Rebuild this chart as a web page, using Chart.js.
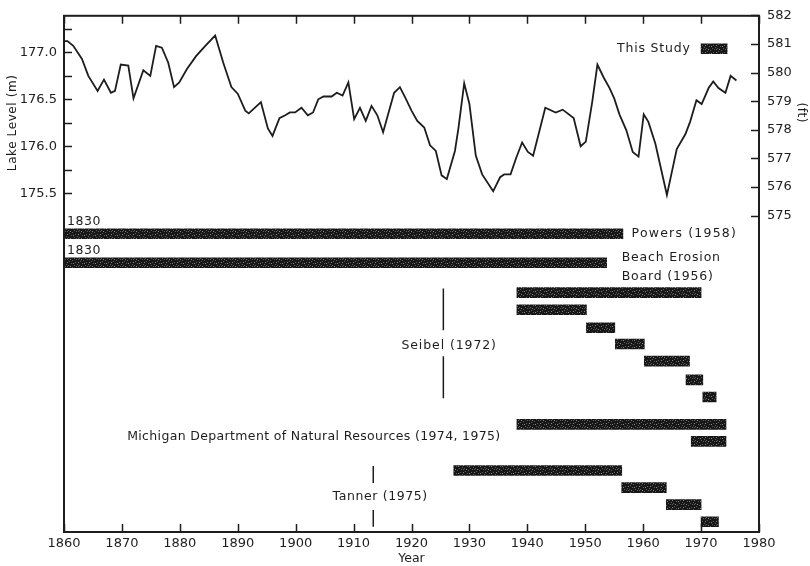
<!DOCTYPE html>
<html>
<head>
<meta charset="utf-8">
<script src="https://cdn.jsdelivr.net/npm/chart.js@4/dist/chart.umd.min.js"></script>
<style>
  html, body { margin: 0; padding: 0; background: #ffffff; }
  #wrap { width: 810px; height: 566px; }
</style>
</head>
<body>
<div id="wrap"><canvas id="c" width="810" height="566"></canvas></div>
<script>
// Lake Michigan–Huron mean lake level (m), yearly record
const levelYears = [
  1860.0, 1860.6, 1861.6, 1863.1, 1864.2, 1865.8, 1866.9, 1868.1, 1868.8, 1869.8,
  1871.1, 1872.0, 1873.7, 1874.9, 1875.9, 1876.9, 1878.0, 1879.0, 1879.9, 1881.2,
  1882.8, 1884.4, 1886.1, 1887.5, 1888.9, 1890.0, 1891.3, 1891.9, 1894.0, 1895.2,
  1896.0, 1897.2, 1898.2, 1899.0, 1899.9, 1901.0, 1902.1, 1903.0, 1903.9, 1904.8,
  1906.2, 1907.1, 1908.1, 1909.1, 1910.1, 1911.1, 1912.1, 1913.1, 1914.1, 1915.1,
  1917.0, 1918.0, 1918.9, 1920.0, 1921.0, 1922.2, 1923.2, 1924.2, 1925.2, 1926.1,
  1927.5, 1928.1, 1929.1, 1930.0, 1931.1, 1932.2, 1934.1, 1935.3, 1936.0, 1937.1,
  1938.1, 1939.1, 1940.1, 1941.0, 1943.1, 1944.9, 1946.1, 1948.0, 1949.2, 1950.1,
  1951.2, 1952.1, 1953.2, 1954.2, 1955.0, 1955.9, 1957.1, 1958.2, 1959.2, 1960.1,
  1960.9, 1962.1, 1964.1, 1965.8, 1967.3, 1968.1, 1969.2, 1970.1, 1971.3, 1972.1,
  1973.0, 1974.2, 1975.1, 1976.1
];
const levelMeters = [
  177.12, 177.12, 177.07, 176.93, 176.75, 176.59, 176.71, 176.57, 176.59, 176.87,
  176.86, 176.51, 176.81, 176.75, 177.07, 177.05, 176.89, 176.63, 176.68, 176.82,
  176.96, 177.07, 177.18, 176.89, 176.63, 176.56, 176.38, 176.35, 176.47, 176.19,
  176.11, 176.30, 176.33, 176.36, 176.36, 176.41, 176.33, 176.36, 176.50, 176.53,
  176.53, 176.57, 176.54, 176.68, 176.29, 176.41, 176.27, 176.43, 176.33, 176.15,
  176.57, 176.63, 176.52, 176.38, 176.27, 176.20, 176.01, 175.95, 175.69, 175.65,
  175.95, 176.19, 176.67, 176.45, 175.90, 175.70, 175.52, 175.67, 175.70, 175.70,
  175.88, 176.04, 175.94, 175.90, 176.41, 176.36, 176.39, 176.30, 176.00, 176.05,
  176.47, 176.87, 176.73, 176.62, 176.51, 176.34, 176.17, 175.94, 175.89, 176.34,
  176.26, 176.03, 175.48, 175.97, 176.13, 176.26, 176.49, 176.45, 176.62, 176.69,
  176.62, 176.57, 176.75, 176.70
];

// Periods of record covered by each study (one bar per row)
const studyRow   = [1.93, 12.75, 14.45, 16.2, 17.2, 18.25, 19.2, 20.2, 21.3, 22.3, 23.9, 24.9, 26.6, 27.6, 28.6, 29.6];
const studyStart = [1970.0, 1830, 1830, 1938.2, 1938.2, 1950.2, 1955.2, 1960.2, 1967.4, 1970.3, 1938.2, 1968.3, 1927.3, 1956.3, 1964.0, 1970.0];
const studyEnd   = [1974.5, 1956.5, 1953.7, 1970.0, 1950.2, 1955.1, 1960.2, 1968.0, 1970.3, 1972.6, 1974.3, 1974.3, 1956.3, 1964.0, 1970.0, 1973.0];

// Divider marks next to the Seibel and Tanner labels
const seibelYear = 1925.5;
const seibelRows = [15.95, 18.4, null, 19.92, 22.37];
const tannerYear = 1913.4;
const tannerRows = [26.34, 27.33, null, 28.91, 29.9];

// Axis tick values
const yearTicks  = [1860, 1870, 1880, 1890, 1900, 1910, 1920, 1930, 1940, 1950, 1960, 1970, 1980];
const meterTicks = [175.5, 175.75, 176.0, 176.25, 176.5, 176.75, 177.0, 177.25];
const feetTicks  = [575, 576, 577, 578, 579, 580, 581, 582];

// Text labels: [text, year, row, align, letter spacing]
const studyLabels = [
  ['This Study', 1968.2, 1.93, 'right', 0.8],
  ['1830', 1860.5, 12.03, 'left', 0.6],
  ['1830', 1860.5, 13.73, 'left', 0.6],
  ['Powers (1958)', 1958.0, 12.75, 'left', 1.2],
  ['Beach Erosion', 1956.3, 14.15, 'left', 0.8],
  ['Board (1956)', 1956.3, 15.25, 'left', 0.8],
  ['Seibel (1972)', 1926.5, 19.33, 'center', 0.9],
  ['Michigan Department of Natural Resources (1974, 1975)', 1870.9, 24.65, 'left', 0.35],
  ['Tanner (1975)', 1914.6, 28.14, 'center', 0.6]
];

const M_PER_FT = 0.3048;
const Y_MIN = 171.89, Y_MAX = 177.39;
const ink = '#1d1d1d';
const FONT = '"DejaVu Sans", "Liberation Sans", sans-serif';

// grainy dark fill for the period bars
function barFill() {
  const p = document.createElement('canvas');
  p.width = 11; p.height = 7;
  const g = p.getContext('2d');
  g.fillStyle = '#171717';
  g.fillRect(0, 0, 11, 7);
  g.fillStyle = '#5e5e5e';
  [[1,0],[6,1],[3,2],[9,3],[0,5],[5,4],[8,6],[2,6],[10,0]].forEach(([a, b]) => g.fillRect(a, b, 1, 1));
  g.fillStyle = '#8a8a8a';
  [[4,0],[7,4],[1,3]].forEach(([a, b]) => g.fillRect(a, b, 1, 1));
  return g.createPattern(p, 'repeat');
}

const frameAndLabels = {
  id: 'frameAndLabels',
  afterDraw(chart) {
    const { ctx, chartArea: a } = chart;
    const { x, y, yft, rows } = chart.scales;
    ctx.save();
    ctx.strokeStyle = ink;
    ctx.lineWidth = 2;
    ctx.strokeRect(a.left, a.top, a.right - a.left, a.bottom - a.top);
    ctx.lineWidth = 1.5;
    ctx.beginPath();
    yearTicks.forEach(v => {
      const px = Math.round(x.getPixelForValue(v)) + 0.5;
      ctx.moveTo(px, a.bottom); ctx.lineTo(px, a.bottom - 8);
      ctx.moveTo(px, a.top); ctx.lineTo(px, a.top + 8);
    });
    meterTicks.forEach(v => {
      const py = Math.round(y.getPixelForValue(v)) + 0.5;
      ctx.moveTo(a.left, py); ctx.lineTo(a.left + 8, py);
    });
    feetTicks.forEach(v => {
      const py = Math.round(yft.getPixelForValue(v)) + 0.5;
      ctx.moveTo(a.right, py); ctx.lineTo(a.right - 8, py);
    });
    ctx.stroke();

    ctx.fillStyle = ink;
    ctx.textBaseline = 'middle';
    ctx.font = '12.5px ' + FONT;
    studyLabels.forEach(([t, yr, r, al, sp]) => {
      ctx.letterSpacing = sp + 'px';
      ctx.textAlign = al;
      ctx.fillText(t, x.getPixelForValue(yr), rows.getPixelForValue(r));
    });

    // axis titles
    ctx.letterSpacing = '0.6px';
    ctx.font = '12px ' + FONT;
    ctx.textAlign = 'center';
    ctx.save();
    ctx.translate(13, y.getPixelForValue(176.25));
    ctx.rotate(-Math.PI / 2);
    ctx.fillText('Lake Level (m)', 0, 0);
    ctx.restore();
    ctx.save();
    ctx.translate(801, yft.getPixelForValue(578.6));
    ctx.rotate(Math.PI / 2);
    ctx.fillText('(ft)', 0, 0);
    ctx.restore();
    ctx.restore();
  }
};

const fill = barFill();

new Chart(document.getElementById('c'), {
  type: 'bar',
  data: {
    datasets: [
      {
        type: 'line',
        data: levelYears.map((yr, i) => ({ x: yr, y: levelMeters[i] })),
        xAxisID: 'x', yAxisID: 'y',
        borderColor: ink, borderWidth: 1.8,
        pointRadius: 0, tension: 0, fill: false
      },
      {
        type: 'bar',
        indexAxis: 'y',
        data: studyRow.map((r, i) => ({ x: [studyStart[i], studyEnd[i]], y: r })),
        xAxisID: 'x', yAxisID: 'rows',
        backgroundColor: fill, borderWidth: 0, barThickness: 10
      },
      {
        type: 'line',
        data: seibelRows.map(r => ({ x: seibelYear, y: r })),
        xAxisID: 'x', yAxisID: 'rows',
        borderColor: ink, borderWidth: 1.5, pointRadius: 0, spanGaps: false
      },
      {
        type: 'line',
        data: tannerRows.map(r => ({ x: tannerYear, y: r })),
        xAxisID: 'x', yAxisID: 'rows',
        borderColor: ink, borderWidth: 1.5, pointRadius: 0, spanGaps: false
      }
    ]
  },
  options: {
    responsive: false,
    animation: false,
    events: [],
    layout: { padding: { top: 15, left: 0, right: 0, bottom: 0 } },
    plugins: { legend: { display: false }, tooltip: { enabled: false } },
    scales: {
      x: {
        type: 'linear', position: 'bottom', min: 1860, max: 1980, offset: false,
        afterBuildTicks: s => { s.ticks = yearTicks.map(v => ({ value: v })); },
        afterFit: s => { s.height = 34; },
        grid: { drawOnChartArea: false, drawTicks: false, offset: false },
        border: { display: false },
        ticks: { color: ink, font: { family: FONT, size: 13 }, padding: 4, autoSkip: false, maxRotation: 0,
                 callback: v => String(v) },
        title: { display: true, text: 'Year', color: ink, font: { family: FONT, size: 12.5 }, padding: { top: 0, bottom: 0 } }
      },
      y: {
        type: 'linear', position: 'left', min: Y_MIN, max: Y_MAX, offset: false,
        afterBuildTicks: s => { s.ticks = meterTicks.map(v => ({ value: v })); },
        afterFit: s => { s.width = 64; },
        grid: { drawOnChartArea: false, drawTicks: false, offset: false },
        border: { display: false },
        ticks: { color: ink, font: { family: FONT, size: 13 }, padding: 7, autoSkip: false,
                 callback: v => (Math.abs(v * 2 - Math.round(v * 2)) < 1e-6 ? v.toFixed(1) : '') }
      },
      yft: {
        type: 'linear', position: 'right', min: Y_MIN / M_PER_FT, max: Y_MAX / M_PER_FT, offset: false,
        afterBuildTicks: s => { s.ticks = feetTicks.map(v => ({ value: v })); },
        afterFit: s => { s.width = 51; },
        grid: { drawOnChartArea: false, drawTicks: false, offset: false },
        border: { display: false },
        ticks: { color: ink, font: { family: FONT, size: 13 }, padding: 8, autoSkip: false,
                 callback: v => String(v) }
      },
      rows: {
        type: 'linear', axis: 'y', position: 'left', display: false, offset: false,
        grid: { offset: false },
        min: 0, max: 30.2, reverse: true
      }
    }
  },
  plugins: [frameAndLabels]
});
</script>
</body>
</html>
